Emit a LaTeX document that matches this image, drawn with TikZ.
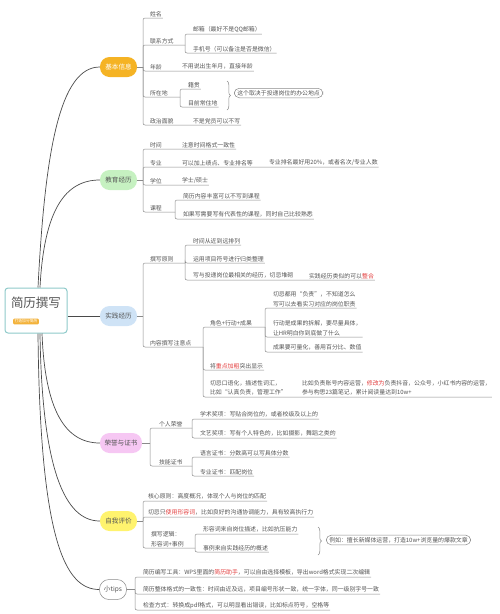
\documentclass[tikz,border=0pt]{standalone}
\usepackage{fontspec}
\setmainfont{Noto Sans CJK SC}
\usepackage{xcolor}
\usepackage{tikz}
\usetikzlibrary{calc,decorations.pathreplacing}
\definecolor{inkgray}{HTML}{555555}
\definecolor{linegray}{HTML}{8A8A8A}
\definecolor{trunkgray}{HTML}{4A4A4A}
\definecolor{rootteal}{HTML}{8FCACA}
\definecolor{tagorange}{HTML}{F3B23A}
\definecolor{basicgold}{HTML}{F5B324}
\definecolor{edugreen}{HTML}{C6F1C1}
\definecolor{practiceblue}{HTML}{CFE3F6}
\definecolor{honorpink}{HTML}{F6C7F3}
\definecolor{selfyellow}{HTML}{FFF36E}
\definecolor{markred}{HTML}{E23D3D}
\tikzset{
  trunk/.style={trunkgray,line width=.7pt},
  branch/.style={linegray,line width=.5pt,rounded corners=2pt},
  rootbox/.style={draw=rootteal,line width=1pt,rounded corners=3pt,fill=white,minimum width=62pt,minimum height=45pt},
  roottitle/.style={inkgray,font=\fontsize{12.5}{14}\selectfont},
  tag/.style={fill=tagorange,text=white,rounded corners=1pt,inner xsep=1.5pt,inner ysep=1pt,font=\fontsize{3.8}{4}\selectfont},
  topic/.style={rounded corners=9.5pt,minimum width=37pt,minimum height=20pt,inner sep=1pt,text=inkgray,font=\fontsize{6.6}{8}\selectfont},
  item/.style={anchor=south west,inner xsep=.8pt,inner ysep=1.2pt,text=inkgray,align=left,font=\fontsize{5.9}{9.5}\selectfont},
  note/.style={draw=linegray,line width=.5pt,rounded corners=5pt,inner xsep=3pt,inner ysep=2pt,text=inkgray,font=\fontsize{5.9}{7}\selectfont},
  curly/.style={linegray,line width=.5pt,decorate,decoration={brace,amplitude=3.5pt}}
}
\newcommand{\redmark}[1]{\textcolor{markred}{#1}}

\begin{document}
\begin{tikzpicture}[x=1pt,y=-1pt]
\useasboundingbox (0,0) rectangle (500,614);
% root
\node[rootbox] (root) at (36,310.5) {};
\node[roottitle] (title) at (36,303) {简历撰写};
\node[tag] (tag) at (26,321.5) {打造加分简历};
% topics
\node[topic,fill=basicgold,text=white] (basic) at (118.5,67) {基本信息};
\node[topic,fill=edugreen] (edu) at (118.5,180) {教育经历};
\node[topic,fill=practiceblue] (practice) at (118.5,316) {实践经历};
\node[topic,fill=honorpink,minimum width=42pt] (honor) at (121,443) {荣誉与证书};
\node[topic,fill=selfyellow] (self) at (118.5,521) {自我评价};
\node[topic,draw=linegray,fill=white,minimum width=27pt,line width=.5pt] (tips) at (113,589.5) {小tips};
% root to topics
\draw[trunk] ([xshift=2pt]root.north) .. controls (45,150) and (60,67) .. (basic.west);
\draw[trunk] ([xshift=4pt]root.north) .. controls (44,210) and (65,180) .. (edu.west);
\draw[trunk] (root.east |- practice.west) -- (practice.west);
\draw[trunk] ([xshift=6pt]root.south) .. controls (45,410) and (65,443) .. (honor.west);
\draw[trunk] ([xshift=4pt]root.south) .. controls (42,470) and (65,521) .. (self.west);
\draw[trunk] ([xshift=2pt]root.south) .. controls (40,540) and (65,589.5) .. (tips.west);

% 基本信息
\coordinate (jB) at (143,67);
\coordinate (jContact) at (185,45);
\coordinate (jLoc) at (180,97);
\node[item] (name) at (149,18) {姓名};
\node[item] (contact) at (149,45) {联系方式};
\node[item] (mail) at (192,34) {邮箱（最好不是QQ邮箱）};
\node[item] (phone) at (192,53) {手机号（可以备注是否是微信）};
\node[item] (age) at (149,71) {年龄};
\node[item] (ageTip) at (181,71) {不用说出生年月，直接年龄};
\node[item] (loc) at (149,97) {所在地};
\node[item] (native) at (187,89) {籍贯};
\node[item] (live) at (187,107) {目前常住地};
\node[item] (party) at (149,125) {政治面貌};
\node[item] (partyTip) at (192,125) {不是党员可以不写};
\draw[branch] (basic.east) -- (jB);
\draw[branch] (jB) |- (name.south east);
\draw[branch] (jB) |- (jContact);
\draw[branch] (jContact) |- (mail.south east);
\draw[branch] (jContact) |- (phone.south east);
\draw[branch] (jB) |- (ageTip.south east);
\draw[branch] (jB) |- (jLoc);
\draw[branch] (jLoc) |- (native.south east);
\draw[branch] (jLoc) |- (live.south east);
\draw[branch] (jB) |- (partyTip.south east);
\coordinate (locTop) at (227,81);
\coordinate (locBot) at (227,110);
\draw[curly] (locTop) -- (locBot);
\node[note,anchor=west] (locNote) at (234,93) {这个取决于投递岗位的办公地点};

% 教育经历
\coordinate (jE) at (143,180);
\coordinate (jCourse) at (175,212);
\node[item] (time) at (149,149) {时间};
\node[item] (timeTip) at (181,149) {注意时间格式一致性};
\node[item] (major) at (149,167) {专业};
\node[item] (majorTip) at (181,167) {可以加上绩点、专业排名等};
\node[item] (rankTip) at (268,167) {专业排名最好用20\%，或者名次/专业人数};
\node[item] (degree) at (149,185) {学位};
\node[item] (degreeTip) at (181,185) {学士/硕士};
\node[item] (course) at (149,212) {课程};
\node[item] (courseA) at (182,200) {简历内容丰富可以不写到课程};
\node[item] (courseB) at (182,219) {如果写需要写有代表性的课程，同时自己比较熟悉};
\draw[branch] (edu.east) -- (jE);
\draw[branch] (jE) |- (timeTip.south east);
\draw[branch] (jE) |- (rankTip.south east);
\draw[branch] (jE) |- (degreeTip.south east);
\draw[branch] (jE) |- (jCourse);
\draw[branch] (jCourse) |- (courseA.south east);
\draw[branch] (jCourse) |- (courseB.south east);

% 实践经历
\coordinate (jP) at (143,316);
\coordinate (jRule) at (185,263);
\coordinate (jContent) at (203,347);
\coordinate (jRole) at (265,327);
\node[item] (rule) at (149,263) {撰写原则};
\node[item] (ruleA) at (192,245) {时间从近到远排列};
\node[item] (ruleB) at (192,263) {运用项目符号进行归类整理};
\node[item] (ruleC) at (192,280) {写与投递岗位最相关的经历，切忌堆砌};
\node[item] (ruleCTip) at (308,280) {实践经历类似的可以\redmark{整合}};
\node[item] (content) at (149,347) {内容撰写注意点};
\node[item] (role) at (209,327) {角色+行动+成果};
\node[item] (roleA) at (272,308) {切忌都用“负责”，不知道怎么\\写可以去看实习对应的岗位职责};
\node[item] (roleB) at (272,337) {行动是成果的拆解，要尽量具体，\\让HR明白你到底做了什么};
\node[item] (roleC) at (272,352) {成果要可量化，善用百分比、数值};
\node[item] (bold) at (209,370) {将\redmark{重点加粗}突出显示};
\node[item] (oral) at (209,397) {切忌口语化，描述性词汇，\\比如“认真负责，管理工作”};
\node[item] (oralTip) at (301,397) {比如负责账号内容运营，\redmark{修改为}负责抖音，公众号，小红书内容的运营，\\参与构思23篇笔记，累计阅读量达到10w+};
\draw[branch] (practice.east) -- (jP);
\draw[branch] (jP) |- (jRule);
\draw[branch] (jRule) |- (ruleA.south east);
\draw[branch] (jRule) |- (ruleB.south east);
\draw[branch] (jRule) |- (ruleCTip.south east);
\draw[branch] (jP) |- (jContent);
\draw[branch] (jContent) |- (jRole);
\draw[branch] (jRole) |- (roleA.south east);
\draw[branch] (jRole) |- (roleB.south east);
\draw[branch] (jRole) |- (roleC.south east);
\draw[branch] (jContent) |- (bold.south east);
\draw[branch] (jContent) |- (oralTip.south east);

% 荣誉与证书
\coordinate (jH) at (150,443);
\coordinate (jPersonal) at (192,428);
\coordinate (jSkill) at (192,466);
\node[item] (personal) at (158,428) {个人荣誉};
\node[item] (academic) at (199,419) {学术奖项：写贴合岗位的，或者校级及以上的};
\node[item] (art) at (199,438) {文艺奖项：写有个人特色的，比如摄影，舞蹈之类的};
\node[item] (skill) at (158,466) {技能证书};
\node[item] (lang) at (199,457) {语言证书：分数高可以写具体分数};
\node[item] (pro) at (199,476) {专业证书：匹配岗位};
\draw[branch] (honor.east) -- (jH);
\draw[branch] (jH) |- (jPersonal);
\draw[branch] (jPersonal) |- (academic.south east);
\draw[branch] (jPersonal) |- (art.south east);
\draw[branch] (jH) |- (jSkill);
\draw[branch] (jSkill) |- (lang.south east);
\draw[branch] (jSkill) |- (pro.south east);

% 自我评价
\coordinate (jS) at (143,521);
\coordinate (jLogic) at (195,548);
\node[item] (core) at (147,501) {核心原则：高度概况，体现个人与岗位的匹配};
\node[item] (avoid) at (147,517) {切忌只\redmark{使用形容词}，比如良好的沟通协调能力，具有较高执行力};
\node[item] (logic) at (150,548) {撰写逻辑：\\形容词+事例};
\node[item] (adj) at (202,534) {形容词来自岗位描述，比如抗压能力};
\node[item] (case) at (202,552) {事例来自实践经历的概述};
\draw[branch] (self.east) -- (jS);
\draw[branch] (jS) |- (core.south east);
\draw[branch] (jS) |- (avoid.south east);
\draw[branch] (jS) |- (jLogic);
\draw[branch] (jLogic) |- (adj.south east);
\draw[branch] (jLogic) |- (case.south east);
\coordinate (caseTop) at (318,527);
\coordinate (caseBot) at (318,555);
\draw[curly] (caseTop) -- (caseBot);
\node[note,anchor=west] (caseNote) at (326,540) {例如：擅长新媒体运营，打造10w+浏览量的爆款文章};

% 小tips
\coordinate (jT) at (135,589.5);
\node[item] (tool) at (142,577) {简历编写工具：WPS里面的\redmark{简历助手}，可以自由选择模板，导出word格式实现二次编辑};
\node[item] (format) at (142,594) {简历整体格式的一致性：时间由近及远，项目编号形状一致，统一字体，同一级别字号一致};
\node[item] (check) at (142,610) {检查方式：转换成pdf格式，可以明显看出错误，比如标点符号，空格等};
\draw[branch] (tips.east) -- (jT);
\draw[branch] (jT) |- (tool.south east);
\draw[branch] (jT) |- (format.south east);
\draw[branch] (jT) |- (check.south east);
\end{tikzpicture}
\end{document}
